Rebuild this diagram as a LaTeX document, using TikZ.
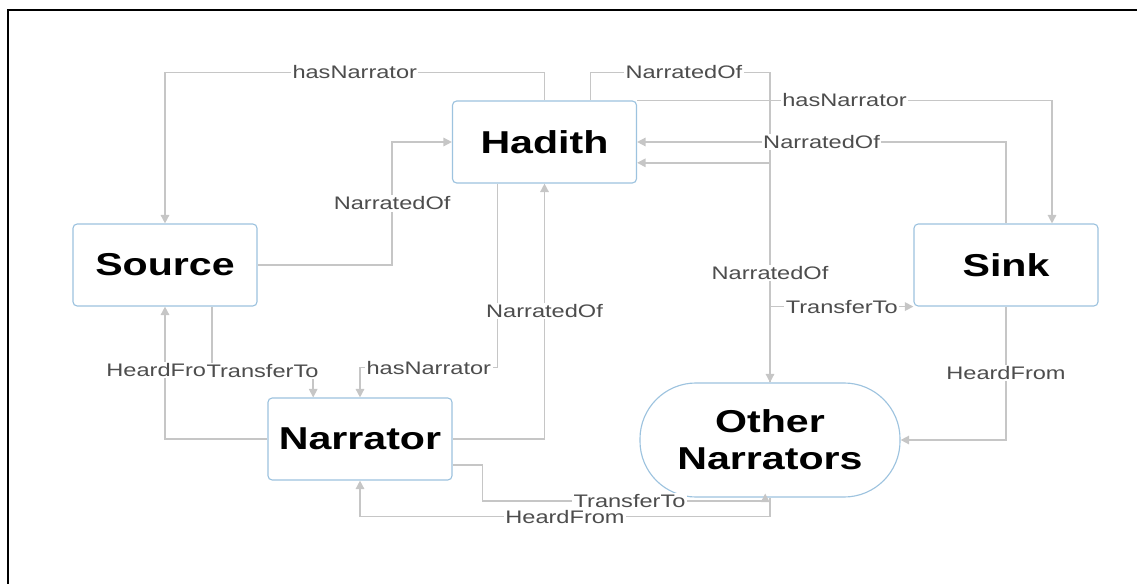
\documentclass[tikz,border=0pt]{standalone}
\usepackage{fontspec}
\setmainfont{Liberation Sans}[FakeStretch=1.3]
\usetikzlibrary{arrows.meta}
\definecolor{boxblue}{HTML}{9DC3DF}
\definecolor{linkgray}{HTML}{C6C6C6}
\definecolor{textgray}{HTML}{4D4D4D}

\begin{document}
\begin{tikzpicture}[x=0.025cm,y=-0.025cm,
  box/.style={draw=boxblue,line width=0.8pt,fill=white,rounded corners=3pt,
    minimum width=4.6cm,minimum height=2.05cm,
    font=\fontsize{22.5}{26.4}\selectfont\bfseries},
  pillbox/.style={box,minimum width=6.5cm,minimum height=2.85cm,
    rounded corners=1.4cm,align=center},
  link/.style={draw=linkgray,line width=1.1pt,-{Triangle[length=6pt,width=6pt]}},
  linkname/.style={fill=white,inner sep=1pt,text=textgray,
    font=\fontsize{12.9}{14}\selectfont}]

  \useasboundingbox (0,0) rectangle (1137,584);
  \draw[line width=1.5pt] (1137,10) -- (8,10) -- (8,584);

  \node[box] (hadith) at (544.5,142) {Hadith};
  \node[box] (source) at (165,265) {Source};
  \node[box] (sink) at (1006,265) {Sink};
  \node[box] (narrator) at (360,439) {Narrator};
  \node[pillbox] (others) at (770,440) {Other\\Narrators};

  % links from and to Hadith
  \draw[link] (hadith.north) -- ++(0,-28) -| (source.north)
    node[linkname,pos=0.25] {hasNarrator};
  \draw[link] ([xshift=1.15cm]hadith.north) -- ++(0,-28) -| (others.north)
    node[linkname,pos=0.26] {NarratedOf};
  \draw[link] (hadith.north east) -| ([xshift=1.15cm]sink.north)
    node[linkname,pos=0.25] {hasNarrator};
  \draw[link] (sink.north) |- (hadith.east)
    node[linkname,pos=0.75] {NarratedOf};
  \draw[link] (others.north) |- ([yshift=-0.52cm]hadith.east)
    node[linkname,pos=0.25] {NarratedOf};
  \draw[link] (source.east) -- ++(134.5,0) |- (hadith.west)
    node[linkname,pos=0.25] {NarratedOf};
  \draw[link] ([xshift=-1.17cm]hadith.south) -- ++(0,184) -| (narrator.north)
    node[linkname,pos=0.25] {hasNarrator};
  \draw[link] (narrator.east) -| (hadith.south)
    node[linkname,pos=0.75] {NarratedOf};

  % links between the narrators
  \draw[link] (others.north) |- (sink.south west)
    node[linkname,pos=0.75] {TransferTo};
  \draw[link] (sink.south) |- (others.east)
    node[linkname,pos=0.25] {HeardFrom};
  \draw[link] ([xshift=1.17cm]source.south) -- ++(0,64) -| ([xshift=-1.17cm]narrator.north)
    node[linkname,pos=0.25] {TransferTo};
  \draw[link] (narrator.west) -| (source.south)
    node[linkname,pos=0.76,xshift=-0.22cm] {HeardFro};
  \draw[link] ([yshift=-0.65cm]narrator.east) -- ++(30,0) -- ++(0,36)
    -| ([xshift=-0.12cm,yshift=0.1cm]others.south)
    node[linkname,pos=0.26] {TransferTo};
  \draw[link] (others.south) -- ++(0,19) -| (narrator.south)
    node[linkname,pos=0.25] {HeardFrom};
\end{tikzpicture}
\end{document}
